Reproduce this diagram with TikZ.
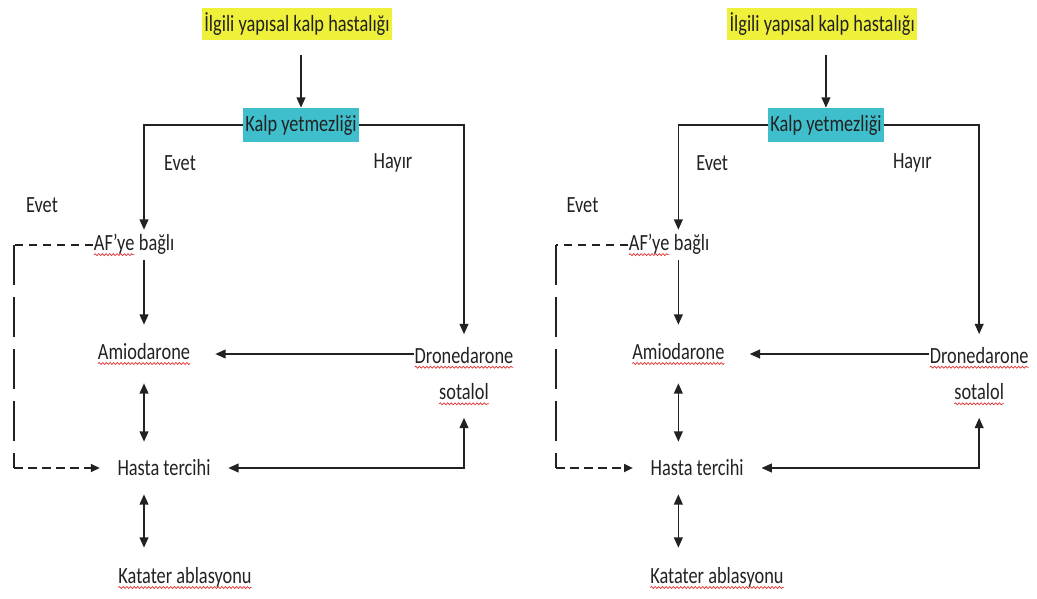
\documentclass[tikz,border=0pt]{standalone}
\usepackage{fontspec}
\setmainfont{Carlito}[FakeStretch=0.79]
\usetikzlibrary{positioning,arrows.meta,decorations.pathmorphing}
\definecolor{hlyellow}{HTML}{EEF03A}
\definecolor{hlcyan}{HTML}{3FBFCC}
\definecolor{inkgray}{HTML}{222222}
\definecolor{spellred}{HTML}{E03030}
\newcommand{\squig}[1]{\tikz[baseline=(sq.base)]{\node[inner sep=0pt, outer sep=0pt, minimum width=0pt, minimum height=0pt] (sq) {#1};
  \draw[spellred, line width=0.5pt, decorate, decoration={snake, amplitude=0.7pt, segment length=2.6pt}]
    ([yshift=-3pt]sq.base west) -- ([yshift=-3pt]sq.base east);}}

\begin{document}
\begin{tikzpicture}[
  x=0.025cm, y=-0.025cm,
  font=\fontsize{16.5}{26}\selectfont,
  lbl/.style={text=inkgray, inner sep=0pt},
  hilite/.style={lbl, inner xsep=1.5pt, minimum height=0.8cm},
  slot/.style={lbl, align=center},
  arr/.style={-{Triangle[length=2.6mm, width=2.2mm]}, line width=1.2pt, color=inkgray},
  dbl/.style={{Triangle[length=2.6mm, width=2.2mm]}-{Triangle[length=2.6mm, width=2.2mm]}, line width=1.2pt, color=inkgray},
  dline/.style={line width=1.2pt, color=inkgray, dash pattern=on 0.22cm off 0.13cm},
  darr/.style={dline, -{Triangle[length=2.2mm, width=2mm]}},
]
  \useasboundingbox (0,0) rectangle (1037,598);
  % two copies of the same chart, side by side
  \foreach \s/\dx/\sx in {L/0/1, R/543/0.94}{
    \begin{scope}[shift={(\dx,0)}, xscale=\sx]
      % highlighted question boxes
      \node[hilite, fill=hlyellow, outer ysep=0.375cm] (ilgili\s) at (297,24) {İlgili yapısal kalp hastalığı};
      \node[hilite, fill=hlcyan, minimum height=0.85cm] (kalp\s) at (301,125) {Kalp yetmezliği};
      % branch labels
      \node[lbl] (evetA\s) at (180,163) {Evet};
      \node[lbl] (hayir\s) at (393,163) {Hayır};
      \node[lbl] (evetB\s) at (42,205) {Evet};
      % drug / choice nodes
      \node[lbl, minimum height=0.75cm] (af\s) at (134,245) {\squig{AF’ye} bağlı};
      \node[lbl, minimum width=3.55cm, minimum height=1.45cm] (amio\s) at (144,354) {\squig{Amiodarone}};
      \node[slot, minimum width=2.45cm, minimum height=2.075cm] (drone\s) at (464,376) {\squig{Dronedarone}\\\squig{sotalol}};
      \node[lbl, minimum width=3.2cm, minimum height=1.3cm] (hasta\s) at (164,468) {Hasta tercihi};
      \node[lbl, minimum height=1.5cm] (kat\s) at (185,578) {\squig{Katater ablasyonu}};
      \coordinate (dtop\s) at (14,245);
      \coordinate (dbot\s) at (14,468);
      % arrows
      \draw[arr] (ilgili\s.south -| kalp\s) -- (kalp\s);
      \draw[arr] (kalp\s.west) -| (af\s.north -| amio\s.north);
      \draw[arr] (kalp\s.east) -| (drone\s.north);
      \draw[arr] (af\s.south -| amio\s.north) -- (amio\s.north);
      \draw[arr] (drone\s.west |- amio\s.east) -- (amio\s.east);
      \draw[dbl] (amio\s.south) -- (hasta\s.north -| amio\s.south);
      \draw[dbl] (hasta\s.east) -| (drone\s.south);
      \draw[dbl] (hasta\s.south -| amio\s.south) -- (kat\s.north -| amio\s.south);
      \draw[dline] (af\s.west) -- (dtop\s);
      \draw[dline, dash pattern=on 1cm off 0.3cm] (dtop\s) -- (dbot\s);
      \draw[darr] (dbot\s) -- (hasta\s.west);
    \end{scope}
  }
\end{tikzpicture}
\end{document}
